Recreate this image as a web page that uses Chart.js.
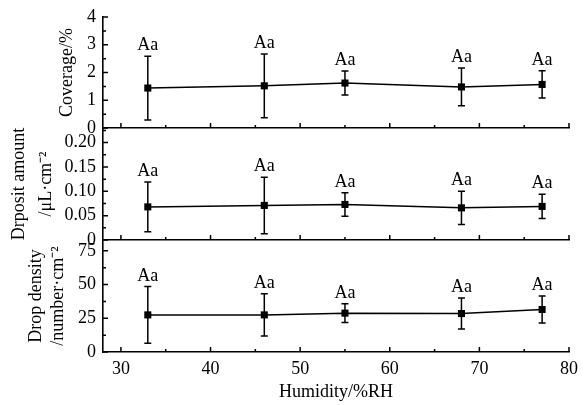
<!DOCTYPE html>
<html>
<head>
<meta charset="utf-8">
<script src="https://cdn.jsdelivr.net/npm/chart.js@4.4.0/dist/chart.umd.min.js"></script>
<style>
body { margin: 0; background: #fff; }
#wrap { position: relative; width: 585px; height: 405px; }
#wrap canvas { position: absolute; left: 0; top: 0; }
</style>
</head>
<body>
<div id="wrap">
  <canvas id="c1" width="585" height="405"></canvas>
  <canvas id="c2" width="585" height="405"></canvas>
  <canvas id="c3" width="585" height="405"></canvas>
</div>
<script>
// data
const humidity = [33, 46, 55, 68, 77];
const coverage = [1.44, 1.52, 1.62, 1.48, 1.57];
const coverageErr = [1.15, 1.15, 0.43, 0.68, 0.49];
const deposit = [0.068, 0.071, 0.073, 0.066, 0.069];
const depositErr = [0.051, 0.058, 0.024, 0.034, 0.025];
const density = [27.5, 27.5, 28.8, 28.5, 31.5];
const densityErr = [21, 15.7, 7, 11.5, 10];
const letters = ['Aa', 'Aa', 'Aa', 'Aa', 'Aa'];

const humidityTicks = [30, 40, 50, 60, 70, 80];
const coverageTicks = [0, 1, 2, 3, 4];
const coverageLabels = ['0', '1', '2', '3', '4'];
const depositTicks = [0, 0.05, 0.10, 0.15, 0.20];
const depositLabels = ['0', '0.05', '0.10', '0.15', '0.20'];
const densityTicks = [0, 25, 50, 75];
const densityLabels = ['0', '25', '50', '75'];

Chart.defaults.font.family = '"Liberation Serif", "Times New Roman", serif';
Chart.defaults.color = '#000';

// half-step ticks between the labelled ones
function minorValues(vals, max) {
  const out = [];
  const step = vals[1] - vals[0];
  for (let i = 0; i < vals.length; i++) {
    const m = vals[i] + step / 2;
    if (m <= max + 1e-9) out.push(m);
  }
  return out;
}

// inward ticks, error bars and group letters
const panelPlugin = {
  id: 'panel',
  beforeDatasetsDraw(chart, args, opts) {
    const ctx = chart.ctx, xs = chart.scales.x, ys = chart.scales.y;
    const pts = chart.data.datasets[0].data;
    ctx.save();
    ctx.strokeStyle = '#000';
    ctx.lineWidth = 1.5;
    pts.forEach((p, i) => {
      const px = xs.getPixelForValue(p.x);
      const t = ys.getPixelForValue(p.y + opts.err[i]);
      const b = ys.getPixelForValue(p.y - opts.err[i]);
      ctx.beginPath();
      ctx.moveTo(px, t); ctx.lineTo(px, b);
      ctx.moveTo(px - 3.5, t); ctx.lineTo(px + 3.5, t);
      ctx.moveTo(px - 3.5, b); ctx.lineTo(px + 3.5, b);
      ctx.stroke();
    });
    ctx.restore();
  },
  afterDraw(chart, args, opts) {
    const ctx = chart.ctx, xs = chart.scales.x, ys = chart.scales.y;
    const area = chart.chartArea;
    const pts = chart.data.datasets[0].data;
    ctx.save();
    ctx.fillStyle = '#000';
    ctx.font = '18px "Liberation Serif", serif';
    ctx.textAlign = 'center';
    ctx.textBaseline = 'alphabetic';
    pts.forEach((p, i) => {
      const px = xs.getPixelForValue(p.x);
      const t = ys.getPixelForValue(p.y + opts.err[i]);
      ctx.fillText(letters[i], px, t - 6);
    });
    ctx.strokeStyle = '#000';
    ctx.lineWidth = 1.5;
    ctx.beginPath();
    opts.yTicks.forEach(v => {
      const py = ys.getPixelForValue(v);
      ctx.moveTo(area.left, py); ctx.lineTo(area.left + 5, py);
    });
    minorValues(opts.yTicks, ys.max).forEach(v => {
      const py = ys.getPixelForValue(v);
      ctx.moveTo(area.left, py); ctx.lineTo(area.left + 3, py);
    });
    humidityTicks.forEach(v => {
      const px = xs.getPixelForValue(v);
      ctx.moveTo(px, area.bottom); ctx.lineTo(px, area.bottom - 5);
    });
    minorValues(humidityTicks, xs.max).forEach(v => {
      const px = xs.getPixelForValue(v);
      ctx.moveTo(px, area.bottom); ctx.lineTo(px, area.bottom - 3);
    });
    ctx.stroke();
    ctx.restore();
  }
};

function makePanel(id, values, err, yMax, yTicks, yLabels, title, titleLH, titlePad, pad, showX) {
  const pts = humidity.map((h, i) => ({x: h, y: values[i]}));
  return new Chart(document.getElementById(id), {
    type: 'line',
    data: {
      datasets: [{
        data: pts,
        borderColor: '#000',
        borderWidth: 1.5,
        pointStyle: 'rect',
        pointRadius: 5,
        pointBackgroundColor: '#000',
        pointBorderWidth: 0,
        tension: 0
      }]
    },
    plugins: [panelPlugin],
    options: {
      responsive: false,
      animation: false,
      events: [],
      layout: { padding: pad },
      plugins: {
        legend: { display: false },
        tooltip: { enabled: false },
        panel: { err: err, yTicks: yTicks }
      },
      scales: {
        x: {
          type: 'linear',
          min: 28,
          max: 80,
          grid: { display: false, drawTicks: false, tickLength: 0 },
          border: { display: true, color: '#000', width: 1.6 },
          afterBuildTicks: s => { s.ticks = humidityTicks.map(v => ({value: v})); },
          ticks: { display: showX, padding: 6, font: { size: 18 } },
          title: {
            display: showX,
            text: 'Humidity/%RH',
            font: { size: 18 },
            padding: { top: 0, bottom: 2 }
          },
          afterFit: s => {
            s.height = showX ? 53 : 0;
            s.paddingLeft = 0;
            s.paddingRight = 0;
          }
        },
        y: {
          min: 0,
          max: yMax,
          grid: { display: false, drawTicks: false, tickLength: 0 },
          border: { display: true, color: '#000', width: 1.6 },
          afterBuildTicks: s => { s.ticks = yTicks.map(v => ({value: v})); },
          ticks: {
            padding: 7,
            font: { size: 18 },
            callback: (v, i) => yLabels[i]
          },
          title: {
            display: true,
            text: title,
            font: { size: 18, lineHeight: titleLH },
            padding: { top: titlePad, bottom: 0 }
          },
          afterFit: s => {
            s.width = 103;
            s.paddingTop = 0;
            s.paddingBottom = 0;
          }
        }
      }
    }
  });
}

makePanel('c1', coverage, coverageErr, 4, coverageTicks, coverageLabels,
  'Coverage/%', 1.2, 56, { top: 17, bottom: 277, left: 0, right: 16 }, false);
makePanel('c2', deposit, depositErr, 0.23, depositTicks, depositLabels,
  ['Drposit amount', '/μL·cm⁻²'], 1.5, 6, { top: 128, bottom: 165, left: 0, right: 16 }, false);
makePanel('c3', density, densityErr, 83, densityTicks, densityLabels,
  ['Drop density', '/number·cm⁻²'], 1.22, 25, { top: 240, bottom: 0, left: 0, right: 16 }, true);
</script>
</body>
</html>
